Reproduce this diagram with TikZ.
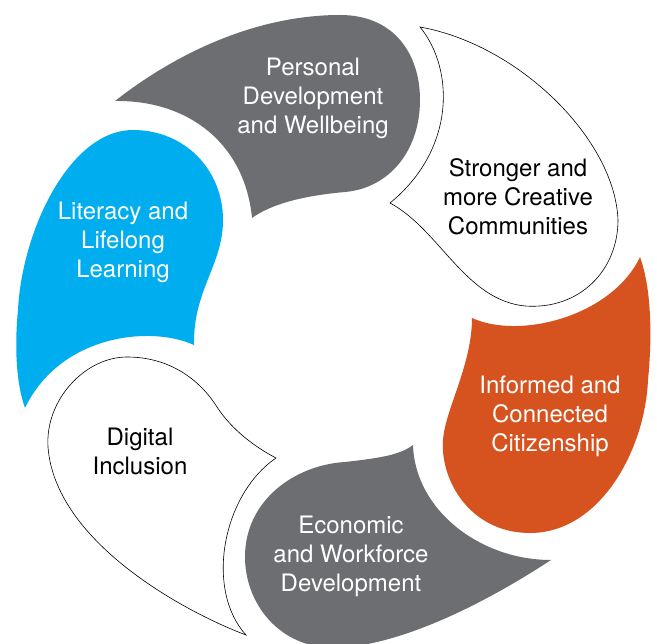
\documentclass[tikz,border=0pt]{standalone}
\usepackage{fontspec}
\setmainfont{TeX Gyre Heros}
\usepackage{tikz}
\definecolor{petalgrey}{HTML}{6D6E71}
\definecolor{petalblue}{HTML}{00AEEF}
\definecolor{petalorange}{HTML}{D6521F}
\tikzset{greypetal/.style={fill=petalgrey},
  bluepetal/.style={fill=petalblue},
  orangepetal/.style={fill=petalorange},
  openpetal/.style={fill=white, draw=black, line width=0.6pt},
  whitetext/.style={align=center, text=white, font=\fontsize{24}{29}\selectfont},
  darktext/.style={align=center, text=black, font=\fontsize{24}{29}\selectfont}}

\begin{document}
\begin{tikzpicture}[x=1pt, y=-1pt]
    \useasboundingbox (0,0) rectangle (657,644);
    \clip (0,0) rectangle (657,644);
    % Personal Development and Wellbeing
    \fill [greypetal] (115,101) .. controls (180,50) and (260,15) .. (340,15)
      .. controls (395,15) and (420,55) .. (420,100)
      .. controls (420,150) and (390,188) .. (345,192)
      .. controls (300,196) and (270,205) .. (252,218)
      .. controls (245,145) and (190,100) .. cycle;
    % Stronger and more Creative Communities
    \filldraw [openpetal] (420,27) .. controls (455,70) and (455,150) .. (390,203)
      .. controls (440,230) and (465,300) .. (525,306)
      .. controls (580,310) and (618,270) .. (618,220)
      .. controls (615,140) and (520,45) .. cycle;
    % Informed and Connected Citizenship
    \fill [orangepetal] (472,318) .. controls (520,340) and (612,316) .. (640,257)
      .. controls (652,290) and (652,340) .. (648,380)
      .. controls (645,450) and (600,533) .. (530,533)
      .. controls (470,533) and (440,480) .. (443,440)
      .. controls (445,410) and (472,365) .. cycle;
    % Economic and Workforce Development
    \fill [greypetal] (413,445) .. controls (415,510) and (480,560) .. (551,560)
      .. controls (490,600) and (400,648) .. (330,648)
      .. controls (275,645) and (245,600) .. (245,557)
      .. controls (245,500) and (295,465) .. (345,462)
      .. controls (380,458) and (400,455) .. cycle;
    % Digital Inclusion
    \filldraw [openpetal] (127,357) .. controls (170,357) and (200,380) .. (217,407)
      .. controls (232,430) and (255,447) .. (276,458)
      .. controls (222,495) and (205,590) .. (246,635)
      .. controls (180,610) and (55,540) .. (48,447)
      .. controls (45,400) and (85,357) .. cycle;
    % Literacy and Lifelong Learning
    \fill [bluepetal] (133,130) .. controls (185,130) and (223,170) .. (223,220)
      .. controls (223,265) and (193,290) .. (194,345)
      .. controls (150,325) and (60,335) .. (25,408)
      .. controls (15,380) and (15,340) .. (18,310)
      .. controls (22,230) and (70,130) .. cycle;

    \node [whitetext] (personal) at (313,98) {Personal\\Development\\and Wellbeing};
    \node [darktext] (stronger) at (518,197) {Stronger and\\more Creative\\Communities};
    \node [whitetext] (informed) at (550,416) {Informed and\\Connected\\Citizenship};
    \node [whitetext] (economic) at (351,556) {Economic\\and Workforce\\Development};
    \node [darktext] (digital) at (140,451) {Digital\\Inclusion};
    \node [whitetext] (literacy) at (123,242) {Literacy and\\Lifelong\\Learning};
  \end{tikzpicture}
\end{document}
